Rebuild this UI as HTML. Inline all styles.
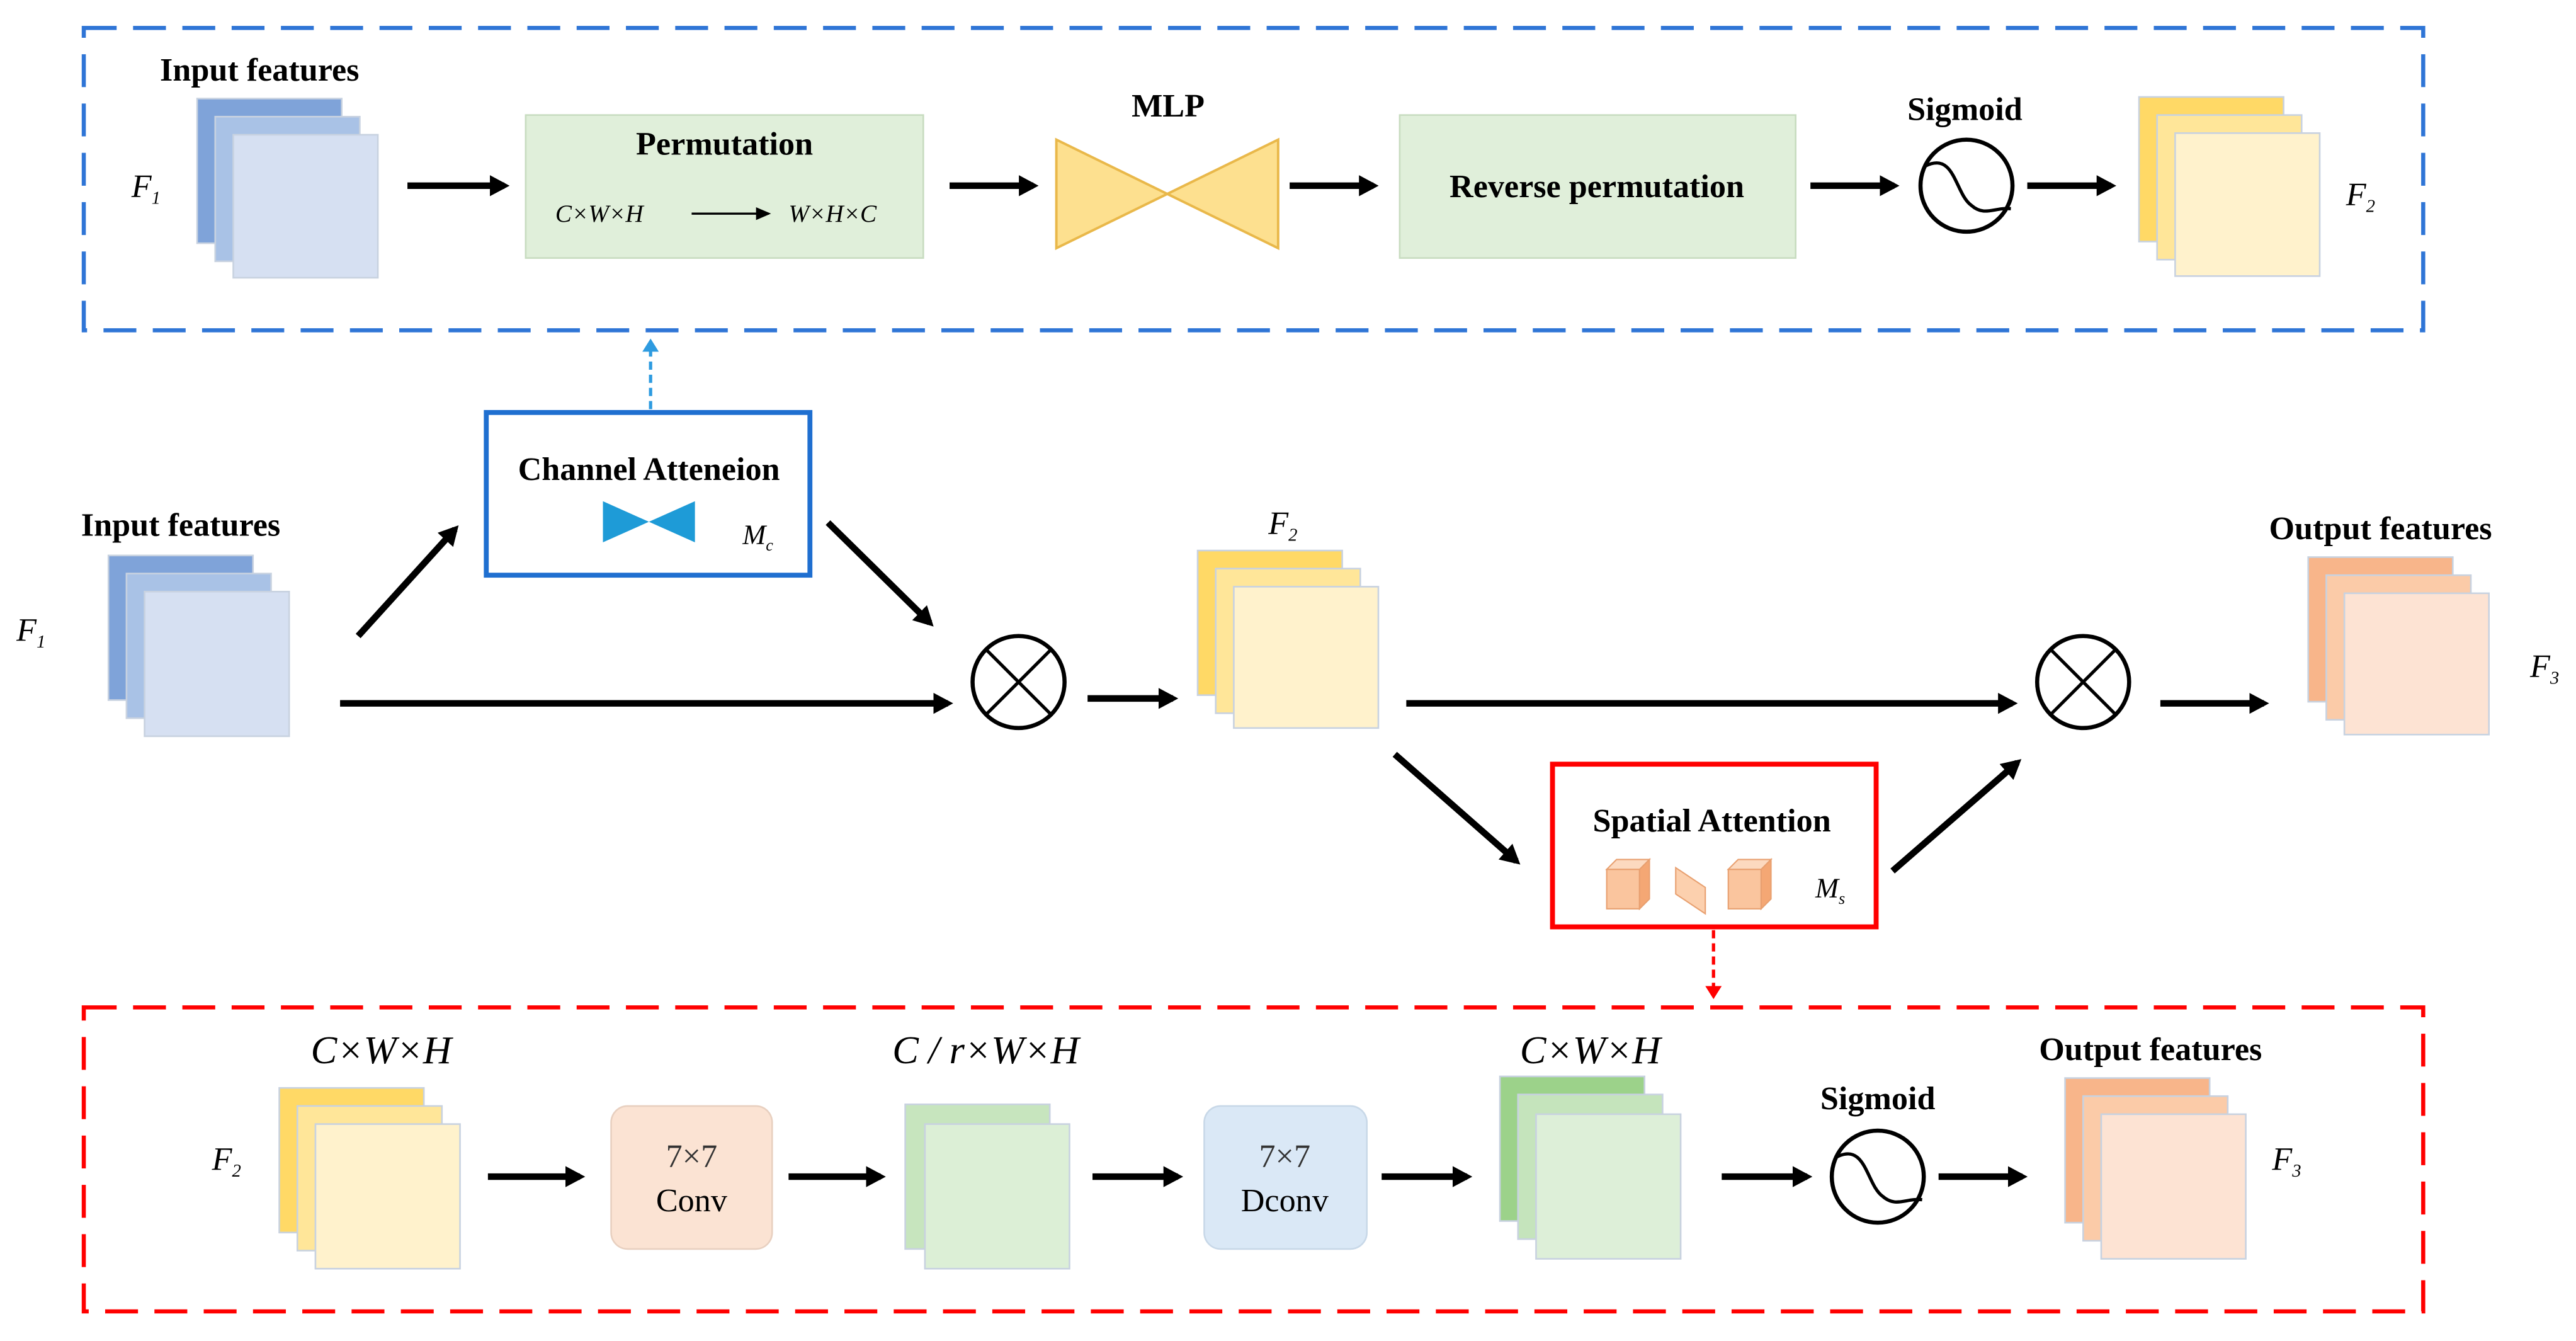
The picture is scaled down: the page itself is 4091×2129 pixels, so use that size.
<!DOCTYPE html>
<html><head><meta charset="utf-8"><style>html,body{margin:0;padding:0;background:#fff}svg{display:block}</style></head>
<body>
<svg xmlns="http://www.w3.org/2000/svg" width="4091" height="2129" viewBox="0 0 1568 816" font-family="'Liberation Serif',serif">
<defs>
<marker id="ah" markerWidth="4" markerHeight="4" refX="2.2" refY="2" orient="auto" markerUnits="strokeWidth"><path d="M0,0.4 L3,2 L0,3.6 Z" fill="#000"/></marker>
<marker id="ab" markerWidth="5" markerHeight="5" refX="3" refY="2.5" orient="auto" markerUnits="strokeWidth"><path d="M0,0 L4,2.5 L0,5 Z" fill="#2E9BE0"/></marker>
<marker id="ar" markerWidth="5" markerHeight="5" refX="3" refY="2.5" orient="auto" markerUnits="strokeWidth"><path d="M0,0 L4,2.5 L0,5 Z" fill="#F00"/></marker>
<marker id="as" markerWidth="8" markerHeight="8" refX="6" refY="4" orient="auto" markerUnits="strokeWidth"><path d="M0,1 L7,4 L0,7 Z" fill="#000"/></marker>
</defs>
<!-- dashed boxes -->
<rect x="51" y="17" width="1424" height="184" fill="none" stroke="#2F75D6" stroke-width="2.5" stroke-dasharray="20,10"/>
<rect x="51" y="613" width="1424" height="185" fill="none" stroke="#F00" stroke-width="2.5" stroke-dasharray="20,10"/>
<!-- stacks -->
<g stroke="#C8D2E0" stroke-width="1">
<rect x="120" y="60" width="88" height="88" fill="#7FA3D9"/><rect x="131" y="71" width="88" height="88" fill="#A9C2E6"/><rect x="142" y="82" width="88" height="87" fill="#D6E0F2"/>
<rect x="1302" y="59" width="88" height="88" fill="#FFD966"/><rect x="1313" y="70" width="88" height="88" fill="#FFE699"/><rect x="1324" y="81" width="88" height="87" fill="#FFF2CC"/>
<rect x="66" y="338" width="88" height="88" fill="#7FA3D9"/><rect x="77" y="349" width="88" height="88" fill="#A9C2E6"/><rect x="88" y="360" width="88" height="88" fill="#D6E0F2"/>
<rect x="729" y="335" width="88" height="88" fill="#FFD966"/><rect x="740" y="346" width="88" height="88" fill="#FFE699"/><rect x="751" y="357" width="88" height="86" fill="#FFF2CC"/>
<rect x="1405" y="339" width="88" height="88" fill="#F8B58A"/><rect x="1416" y="350" width="88" height="88" fill="#FBCBA8"/><rect x="1427" y="361" width="88" height="86" fill="#FDE3D3"/>
<rect x="170" y="662" width="88" height="88" fill="#FFD966"/><rect x="181" y="673" width="88" height="88" fill="#FFE699"/><rect x="192" y="684" width="88" height="88" fill="#FFF2CC"/>
<rect x="551" y="672" width="88" height="88" fill="#C7E5BE"/><rect x="563" y="684" width="88" height="88" fill="#DCEFD6"/>
<rect x="913" y="655" width="88" height="88" fill="#9CD28A"/><rect x="924" y="666" width="88" height="88" fill="#C5E4BC"/><rect x="935" y="678" width="88" height="88" fill="#DDEFD8"/>
<rect x="1257" y="656" width="88" height="88" fill="#F8B58A"/><rect x="1268" y="667" width="88" height="88" fill="#FBCBA8"/><rect x="1279" y="678" width="88" height="88" fill="#FDE3D3"/>
</g>
<!-- boxes -->
<rect x="320" y="70" width="242" height="87" fill="#E0EFDA" stroke="#C8DCC0"/>
<rect x="852" y="70" width="241" height="87" fill="#E0EFDA" stroke="#C8DCC0"/>
<path d="M643,85 L778,151 L778,85 L643,151 Z" fill="#FDE08F" stroke="#E9B84A" stroke-width="1.5"/>
<rect x="296" y="251" width="197" height="99" fill="#fff" stroke="#1F6FD0" stroke-width="3"/>
<path d="M367,305 L423,330 L423,305 L367,330 Z" fill="#1E9BD7"/>
<rect x="945" y="465" width="197" height="99" fill="#fff" stroke="#F00" stroke-width="3"/>
<g stroke="#E8A070" stroke-width="0.8">
<path d="M978,529 h20 v24 h-20z" fill="#FAC59E"/><path d="M998,529 l6,-6 v24 l-6,6z" fill="#F4A774"/><path d="M978,529 l6,-6 h20 l-6,6z" fill="#FCD9BF"/>
<path d="M1020,528 l18,12 v16 l-18,-12z" fill="#FCD0AE"/>
<path d="M1052,529 h20 v24 h-20z" fill="#FAC59E"/><path d="M1072,529 l6,-6 v24 l-6,6z" fill="#F4A774"/><path d="M1052,529 l6,-6 h20 l-6,6z" fill="#FCD9BF"/>
</g>
<rect x="372" y="673" width="98" height="87" rx="10" fill="#FBE3D3" stroke="#E8D0C0"/>
<rect x="733" y="673" width="99" height="87" rx="10" fill="#DAE8F6" stroke="#C8D8E8"/>
<!-- circles -->
<g fill="#fff" stroke="#000" stroke-width="2.5">
<circle cx="1197" cy="113" r="28"/><circle cx="620" cy="415" r="28"/><circle cx="1268" cy="415" r="28"/><circle cx="1143" cy="716" r="28"/>
</g>
<g fill="none" stroke="#000" stroke-width="2">
<path d="M1172,101 C1190,92 1190,118 1200,125 C1208,132 1214,126 1224,127"/>
<path d="M1118,704 C1136,695 1136,721 1146,728 C1154,735 1160,729 1170,730"/>
<path d="M600,395 L640,435 M640,395 L600,435 M1248,395 L1288,435 M1288,395 L1248,435"/>
</g>
<!-- arrows -->
<g stroke="#000" stroke-width="4" marker-end="url(#ah)" fill="none">
<line x1="248" y1="113" x2="307" y2="113"/><line x1="578" y1="113" x2="629" y2="113"/><line x1="785" y1="113" x2="836" y2="113"/>
<line x1="1102" y1="113" x2="1153" y2="113"/><line x1="1234" y1="113" x2="1285" y2="113"/>
<line x1="218" y1="387" x2="277" y2="322"/><line x1="504" y1="318" x2="566" y2="379"/>
<line x1="207" y1="428" x2="577" y2="428"/><line x1="662" y1="425" x2="714" y2="425"/>
<line x1="856" y1="428" x2="1225" y2="428"/><line x1="1315" y1="428" x2="1378" y2="428"/>
<line x1="849" y1="459" x2="923" y2="524"/><line x1="1152" y1="530" x2="1228" y2="464"/>
<line x1="297" y1="716" x2="353" y2="716"/><line x1="480" y1="716" x2="536" y2="716"/><line x1="665" y1="716" x2="717" y2="716"/>
<line x1="841" y1="716" x2="893" y2="716"/><line x1="1048" y1="716" x2="1100" y2="716"/><line x1="1180" y1="716" x2="1231" y2="716"/>
</g>
<line x1="421" y1="130" x2="468" y2="130" stroke="#000" stroke-width="1.3" marker-end="url(#as)"/>
<line x1="396" y1="249" x2="396" y2="208" stroke="#2E9BE0" stroke-width="2" stroke-dasharray="5,3" marker-end="url(#ab)"/>
<line x1="1043" y1="566" x2="1043" y2="606" stroke="#F00" stroke-width="2" stroke-dasharray="5,3" marker-end="url(#ar)"/>
<!-- labels -->
<g font-family="'Liberation Serif',serif" font-weight="bold" font-size="20" text-anchor="middle" fill="#000">
<text x="158" y="49">Input features</text>
<text x="441" y="94">Permutation</text>
<text x="711" y="71">MLP</text>
<text x="972" y="120">Reverse permutation</text>
<text x="1196" y="73">Sigmoid</text>
<text x="395" y="292">Channel Atteneion</text>
<text x="110" y="326">Input features</text>
<text x="1449" y="328">Output features</text>
<text x="1042" y="506">Spatial Attention</text>
<text x="1143" y="675">Sigmoid</text>
<text x="1309" y="645">Output features</text>
</g>
<g font-family="'Liberation Serif',serif" font-style="italic" font-size="20" fill="#000">
<text x="80" y="120">F<tspan font-size="11" dy="4">1</tspan></text>
<text x="1428" y="125">F<tspan font-size="11" dy="4">2</tspan></text>
<text x="10" y="390">F<tspan font-size="11" dy="4">1</tspan></text>
<text x="772" y="325">F<tspan font-size="11" dy="4">2</tspan></text>
<text x="1540" y="412">F<tspan font-size="11" dy="4">3</tspan></text>
<text x="129" y="712">F<tspan font-size="11" dy="4">2</tspan></text>
<text x="1383" y="712">F<tspan font-size="11" dy="4">3</tspan></text>
<text x="452" y="331" font-size="17">M<tspan font-size="10" dy="4">c</tspan></text>
<text x="1105" y="546" font-size="17">M<tspan font-size="10" dy="4">s</tspan></text>
<text x="338" y="135" font-size="15">C×W×H</text>
<text x="480" y="135" font-size="15">W×H×C</text>
<text x="232" y="647" font-size="24" text-anchor="middle">C×W×H</text>
<text x="600" y="647" font-size="24" text-anchor="middle">C / r×W×H</text>
<text x="968" y="647" font-size="24" text-anchor="middle">C×W×H</text>
</g>
<g font-family="'Liberation Serif',serif" font-size="20" text-anchor="middle" fill="#000">
<text x="421" y="710" fill="#333">7×7</text><text x="421" y="737">Conv</text>
<text x="782" y="710" fill="#333">7×7</text><text x="782" y="737">Dconv</text>
</g>
</svg>
</body></html>
